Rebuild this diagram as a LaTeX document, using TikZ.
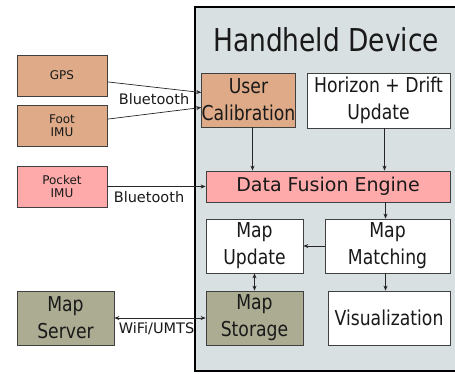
\documentclass[tikz,border=0pt]{standalone}
\usepackage{fontspec}
\setmainfont{DejaVu Sans}
\newfontfamily\narrowfont[FakeStretch=0.84]{DejaVu Sans}
\usepackage{tikz}
\usetikzlibrary{positioning}
\usetikzlibrary{arrows.meta}
\usepackage{xcolor}
\definecolor{sensorbrown}{HTML}{DEAA87}
\definecolor{pocketpink}{HTML}{FFAAAA}
\definecolor{mapolive}{HTML}{ACAC93}
\definecolor{devicegray}{HTML}{D9E0E2}

\begin{document}
\begin{tikzpicture}[x=1pt, y=-1pt,
    box/.style={draw=black!75, line width=0.8pt, inner sep=0pt, align=center,
        font=\narrowfont\fontsize{20.5}{27}\selectfont, text=black!90},
    sensor/.style={draw=black!75, line width=0.8pt, inner sep=0pt, align=center,
        minimum width=90pt, minimum height=41pt, font=\fontsize{12}{13}\selectfont, text=black!90},
    link/.style={black!85, line width=0.7pt, -{Stealth[length=5pt, width=4pt]}},
    twoway/.style={black!85, line width=0.7pt, {Stealth[length=5pt, width=4pt]}-{Stealth[length=5pt, width=4pt]}},
    lbl/.style={font=\fontsize{14.5}{16}\selectfont, inner sep=0pt, text=black!90}]
    \useasboundingbox (0,0) rectangle (455,373);
    % handheld device frame
    \fill[devicegray] (195,7) rectangle (470,371);
    \draw[black, line width=2pt] (195,7) rectangle (470,371);
    \node[font=\narrowfont\fontsize{31.5}{36}\selectfont, text=black!90] (title) at (326,40) {Handheld Device};

    % outside
    \node[sensor, fill=sensorbrown] (gps) at (62,75.5) {GPS};
    \node[sensor, fill=sensorbrown] (foot) at (62,125.5) {Foot\\IMU};
    \node[sensor, fill=pocketpink] (pocket) at (62,186.5) {Pocket\\IMU};
    \node[box, fill=mapolive, minimum width=97pt, minimum height=54pt] (server) at (65.5,318) {Map\\Server};

    % inside
    \node[box, fill=sensorbrown, minimum width=87pt, minimum height=54pt] (calib) at (248.5,100) {User\\Calibration};
    \node[box, fill=white, minimum width=143pt, minimum height=55pt] (drift) at (378.5,100.5) {Horizon + Drift\\Update};
    \node[draw=black!75, line width=0.8pt, inner sep=0pt, fill=pocketpink, minimum width=244pt, minimum height=31pt,
        font=\fontsize{19}{22}\selectfont, text=black!90] (fusion) at (328,186.5) {Data Fusion Engine};
    \node[box, fill=white, minimum width=97pt, minimum height=54pt] (mapupd) at (254.5,246) {Map\\Update};
    \node[box, fill=white, minimum width=125pt, minimum height=54pt] (matching) at (387.5,246) {Map\\Matching};
    \node[box, fill=mapolive, minimum width=97pt, minimum height=54pt] (storage) at (254.5,318) {Map\\Storage};
    \node[box, fill=white, minimum width=122pt, minimum height=54pt] (vis) at (389,318) {Visualization};

    % connections
    \draw[link] (gps.-8) -- (calib.171);
    \draw[link] (foot.8) -- (calib.-171);
    \node[lbl] (bt1) at (154,99) {Bluetooth};
    \draw[link] (pocket.east) -- (fusion.west);
    \node[lbl] (bt2) at (149,197) {Bluetooth};
    \draw[link] ([xshift=4pt]calib.south) -- ([xshift=4pt]calib.south |- fusion.north);
    \draw[link] ([xshift=6pt]drift.south) -- ([xshift=6pt]drift.south |- fusion.north);
    \draw[link] ([xshift=-2pt]matching.north |- fusion.south) -- ([xshift=-2pt]matching.north);
    \draw[link] (matching.west) -- (mapupd.east);
    \draw[twoway] (mapupd.south) -- (storage.north);
    \draw[link] ([xshift=-2pt]matching.south) -- ([xshift=-2pt]matching.south |- vis.north);
    \draw[twoway] (server.east) -- (storage.west);
    \node[lbl] (wifi) at (156.5,329) {WiFi/UMTS};
\end{tikzpicture}
\end{document}
